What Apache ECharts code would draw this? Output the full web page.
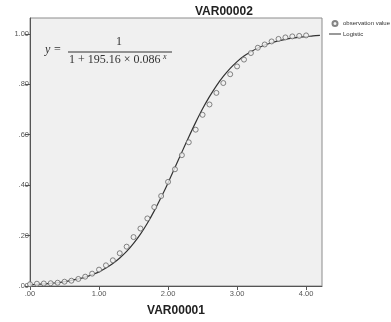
<!DOCTYPE html>
<html>
<head>
<meta charset="utf-8">
<script src="https://cdn.jsdelivr.net/npm/echarts@6/dist/echarts.min.js"></script>
<style>
  html, body { margin: 0; padding: 0; background: #fff; }
  #chart { width: 391px; height: 322px; }
</style>
</head>
<body>
<div id="chart"></div>
<script>
// observed points, x = 0.0 .. 4.0 step 0.1
const obsX = [0.0, 0.1, 0.2, 0.3, 0.4, 0.5, 0.6, 0.7, 0.8, 0.9,
  1.0, 1.1, 1.2, 1.3, 1.4, 1.5, 1.6, 1.7, 1.8, 1.9,
  2.0, 2.1, 2.2, 2.3, 2.4, 2.5, 2.6, 2.7, 2.8, 2.9,
  3.0, 3.1, 3.2, 3.3, 3.4, 3.5, 3.6, 3.7, 3.8, 3.9, 4.0]
const obsY = [0.007, 0.009, 0.010, 0.011, 0.013, 0.017, 0.021, 0.028, 0.037, 0.049,
  0.065, 0.082, 0.102, 0.130, 0.156, 0.194, 0.228, 0.268, 0.313, 0.357,
  0.413, 0.463, 0.519, 0.570, 0.620, 0.679, 0.720, 0.766, 0.805, 0.840,
  0.871, 0.898, 0.924, 0.945, 0.958, 0.970, 0.980, 0.986, 0.990, 0.992, 0.994]

// fitted logistic line
const fitX = [0.0, 0.1, 0.2, 0.3, 0.4, 0.5, 0.6, 0.7, 0.8, 0.9,
  1.0, 1.1, 1.2, 1.3, 1.4, 1.5, 1.6, 1.7, 1.8, 1.9,
  2.0, 2.1, 2.2, 2.3, 2.4, 2.5, 2.6, 2.7, 2.8, 2.9,
  3.0, 3.1, 3.2, 3.3, 3.4, 3.5, 3.6, 3.7, 3.8, 3.9, 4.0, 4.1, 4.2]
const fitY = [0.005, 0.007, 0.008, 0.011, 0.013, 0.017, 0.022, 0.028, 0.035, 0.045,
  0.056, 0.071, 0.089, 0.111, 0.137, 0.169, 0.206, 0.249, 0.298, 0.352,
  0.409, 0.470, 0.531, 0.591, 0.649, 0.703, 0.751, 0.794, 0.831, 0.863,
  0.890, 0.912, 0.929, 0.944, 0.956, 0.965, 0.972, 0.978, 0.983, 0.987, 0.989, 0.992, 0.994]

const xTicks = [0, 1, 2, 3, 4]
const yTicks = [0, 0.2, 0.4, 0.6, 0.8, 1.0]

const fmt = (v) => v.toFixed(2).replace(/^0\./, ".")

const chart = echarts.init(document.getElementById("chart"))

const option = {
  animation: false,
  backgroundColor: "#fff",
  textStyle: { fontFamily: "Liberation Sans, Arial, sans-serif" },
  title: {
    text: "VAR00002",
    left: 190,
    top: 1,
    textStyle: { fontSize: 12, fontWeight: "bold", color: "#222" },
  },
  legend: {
    orient: "vertical",
    left: 329,
    top: 20,
    padding: 0,
    itemWidth: 12,
    itemHeight: 5,
    itemGap: 4,
    textStyle: { fontSize: 6, color: "#333", padding: [0, 0, 0, -3] },
    data: [
      { name: "observation value", icon: "circle" },
      { name: "Logistic", icon: "path://M0,0H12V1H0Z" },
    ],
  },
  grid: {
    left: 30,
    right: 69,
    top: 18,
    bottom: 33,
    show: true,
    backgroundColor: "#f0f0f0",
    borderColor: "#8c8c8c",
    borderWidth: 1,
  },
  xAxis: {
    type: "value",
    min: 0,
    max: 4.23,
    name: "VAR00001",
    nameLocation: "middle",
    nameGap: 19,
    nameTextStyle: { fontSize: 12, fontWeight: "bold", color: "#222" },
    axisLine: { lineStyle: { color: "#555" } },
    axisTick: { show: true, length: 4, customValues: xTicks, lineStyle: { color: "#555" } },
    axisLabel: { customValues: xTicks, formatter: fmt, fontSize: 7.5, color: "#555", margin: 4 },
    splitLine: { show: false },
  },
  yAxis: {
    type: "value",
    min: 0,
    max: 1.063,
    axisLine: { show: true, lineStyle: { color: "#555" } },
    axisTick: { show: true, length: 5, customValues: yTicks, lineStyle: { color: "#555" } },
    axisLabel: { customValues: yTicks, formatter: fmt, fontSize: 7.5, color: "#555", margin: 1 },
    splitLine: { show: false },
  },
  graphic: [
    { type: "text", left: 45, top: 44, style: { text: "y", font: "italic 12px 'Liberation Serif', serif", fill: "#333" } },
    { type: "text", left: 54, top: 44, style: { text: "=", font: "12px 'Liberation Serif', serif", fill: "#333" } },
    { type: "text", left: 116, top: 36, style: { text: "1", font: "12px 'Liberation Serif', serif", fill: "#333" } },
    { type: "line", shape: { x1: 68, y1: 52, x2: 172, y2: 52 }, style: { stroke: "#333", lineWidth: 1 } },
    { type: "text", left: 69, top: 54, style: { text: "1 + 195.16 \u00d7 0.086", font: "12px 'Liberation Serif', serif", fill: "#333" } },
    { type: "text", left: 163, top: 53, style: { text: "x", font: "italic 8px 'Liberation Serif', serif", fill: "#333" } },
  ],
  series: [
    {
      name: "observation value",
      type: "scatter",
      symbol: "circle",
      symbolSize: 5,
      itemStyle: { color: "#f0f0f0", borderColor: "#666", borderWidth: 1 },
      data: obsX.map((x, i) => [x, obsY[i]]),
      z: 3,
    },
    {
      name: "Logistic",
      type: "line",
      smooth: 0.3,
      showSymbol: false,
      lineStyle: { color: "#333", width: 1.2 },
      itemStyle: { color: "#333" },
      data: fitX.map((x, i) => [x, fitY[i]]),
      z: 2,
    },
  ],
}

chart.setOption(option)
</script>
</body>
</html>
